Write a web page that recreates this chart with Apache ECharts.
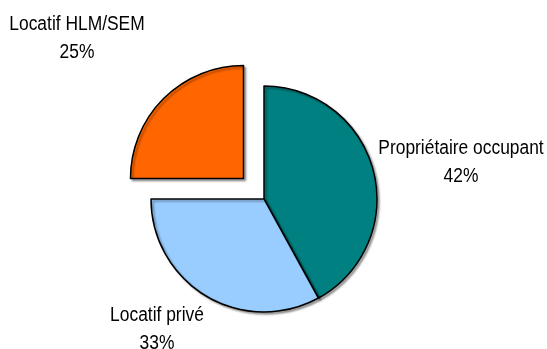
<!DOCTYPE html>
<html>
<head>
<meta charset="utf-8">
<script src="https://cdn.jsdelivr.net/npm/echarts@6/dist/echarts.min.js"></script>
<style>
  html, body { margin: 0; padding: 0; background: #fff; }
  #chart { width: 547px; height: 349px; }
</style>
</head>
<body>
<div id="chart"></div>
<script>
// Répartition des logements par statut d'occupation
const categories = ['Propriétaire occupant', 'Locatif privé', 'Locatif HLM/SEM'];
const shares = [42, 33, 25];
const colors = ['#008080', '#99CCFF', '#FF6600'];
const detached = [false, false, true];

// Label anchor points (centre of each two-line label block)
const labelAnchors = [
  { x: 461, y: 162 },
  { x: 157, y: 329 },
  { x: 77, y: 38 }
];

const chart = echarts.init(document.getElementById('chart'), null, { renderer: 'canvas' });

const total = shares.reduce((s, v) => s + v, 0);

const data = categories.map((name, i) => ({
  name: name,
  value: shares[i],
  selected: detached[i],
  itemStyle: {
    color: colors[i],
    shadowColor: 'rgba(0,0,0,0.35)',
    shadowBlur: 2,
    shadowOffsetX: 2,
    shadowOffsetY: 2
  }
}));

// Condensed two-line labels: name + percentage
const labels = categories.map((name, i) => ({
  type: 'text',
  x: labelAnchors[i].x,
  y: labelAnchors[i].y,
  scaleX: 0.87,
  silent: true,
  style: {
    x: 0,
    y: 0,
    text: name + '\n' + Math.round(shares[i] / total * 100) + '%',
    font: "20px 'Liberation Sans', Arial, sans-serif",
    lineHeight: 28,
    fill: '#000',
    textAlign: 'center',
    textVerticalAlign: 'middle'
  }
}));

chart.setOption({
  animation: false,
  backgroundColor: '#ffffff',
  series: [{
    type: 'pie',
    center: [264, 199],
    radius: 113,
    startAngle: 90,
    clockwise: true,
    selectedMode: 'multiple',
    selectedOffset: 29,
    silent: true,
    itemStyle: { borderColor: '#000', borderWidth: 1.5 },
    select: { itemStyle: { borderColor: '#000', borderWidth: 1.5 } },
    label: { show: false },
    labelLine: { show: false },
    data: data
  }],
  graphic: labels
});
</script>
</body>
</html>
